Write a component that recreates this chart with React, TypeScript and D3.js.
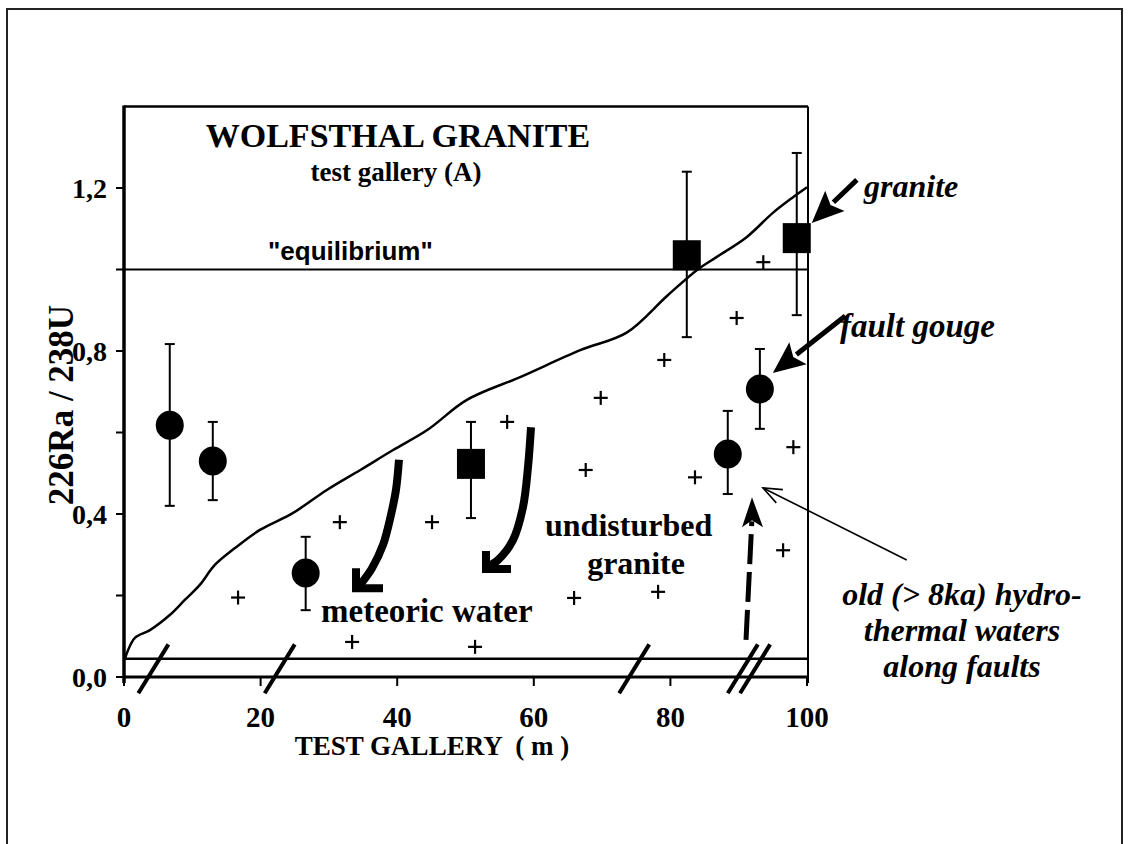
import React from 'react';
import * as d3 from 'd3';

// ---- data ----
const xTicks = [0, 20, 40, 60, 80, 100];
const yTicks = [0, 0.2, 0.4, 0.6, 0.8, 1.0, 1.2];
const yLabelTicks = [0, 0.4, 0.8, 1.2];

// fault gouge / meteoric samples (circles)
const circleX = [6.7, 13.0, 26.6, 88.4, 93.1];
const circleY = [0.618, 0.53, 0.255, 0.547, 0.707];
const circleHi = [0.817, 0.626, 0.344, 0.653, 0.805];
const circleLo = [0.42, 0.434, 0.164, 0.449, 0.609];

// granite samples (squares)
const squareX = [50.8, 82.4, 98.5];
const squareY = [0.523, 1.035, 1.077];
const squareHi = [0.626, 1.24, 1.286];
const squareLo = [0.39, 0.834, 0.888];

// undisturbed granite (+)
const plusX = [16.7, 31.6, 33.4, 45.1, 51.4, 56.1, 65.9, 67.6, 69.8, 78.2, 79.1, 83.6, 89.7, 93.6, 96.5, 98.0];
const plusY = [0.195, 0.38, 0.086, 0.38, 0.074, 0.626, 0.194, 0.508, 0.685, 0.209, 0.778, 0.49, 0.881, 1.018, 0.311, 0.564];

// envelope curve
const curveX = [0.1, 0.6, 1.6, 3.8, 6.7, 8.9, 11.1, 13.3, 16.3, 19.9, 24.7, 29.7, 34.6, 39.4, 44.4, 50.2, 58.0, 66.8, 73.6, 79.5, 83.9, 86.8, 91.2, 95.0, 98.0, 100];
const curveY = [0.042, 0.066, 0.096, 0.115, 0.152, 0.189, 0.226, 0.275, 0.317, 0.361, 0.402, 0.459, 0.508, 0.557, 0.606, 0.68, 0.736, 0.802, 0.845, 0.935, 0.999, 1.031, 1.08, 1.139, 1.178, 1.202];

const equilibrium = 1.0;
const floorLevel = 0.045;
const breakX = [4.3, 22.8, 74.7, 90.6, 92.4];

// annotation arrows (data units)
const meteoric1X = [40.26, 39.82, 39.09, 37.92, 36.31, 34.55];
const meteoric1Y = [0.533, 0.459, 0.398, 0.324, 0.267, 0.226];
const meteoric1Head = [[33.97, 0.267], [33.97, 0.218], [37.92, 0.218]];
const meteoric2X = [59.59, 59.15, 58.42, 56.95, 54.76, 53.15];
const meteoric2Y = [0.613, 0.515, 0.417, 0.336, 0.287, 0.27];
const meteoric2Head = [[53.0, 0.309], [53.0, 0.265], [56.66, 0.265]];
const dashedArrow = [[91.07, 0.091], [91.95, 0.441]];
const oldArrow = [[114.6, 0.287], [93.56, 0.464]];
const gougeArrow = [[105.6, 0.886], [95.0, 0.746]];
const graniteArrow = [[107.3, 1.22], [100.7, 1.114]];

const W = 1129;
const H = 844;
const serif = "'Liberation Serif', 'Times New Roman', serif";
const sans = "'Liberation Sans', Arial, sans-serif";

export default function App() {
  const x = d3.scaleLinear().domain([0, 100]).range([124, 807]);
  const y = d3.scaleLinear().domain([0, 1.4]).range([677, 106.5]);
  const left = x(0), right = 808, top = y(1.4), bottom = y(0);

  const curveLine = d3.line<number>().x((_, i) => x(curveX[i])).y((_, i) => y(curveY[i])).curve(d3.curveCatmullRom);
  const arrowLine = d3.line<[number, number]>().x(d => d[0]).y(d => d[1]).curve(d3.curveCatmullRom);

  const headArrow = (pts: number[][], L: number, hw: number, sw: number, key: string) => {
    const [x1, y1] = [x(pts[0][0]), y(pts[0][1])];
    const [x2, y2] = [x(pts[1][0]), y(pts[1][1])];
    const dx = x2 - x1, dy = y2 - y1;
    const len = Math.hypot(dx, dy);
    const ux = dx / len, uy = dy / len;
    const bx = x2 - ux * L, by = y2 - uy * L;
    const nx = -uy, ny = ux;
    return (
      <g key={key}>
        <line x1={x1} y1={y1} x2={bx + ux * 2} y2={by + uy * 2} stroke="#000" strokeWidth={sw} />
        <polygon points={`${x2},${y2} ${bx + nx * hw},${by + ny * hw} ${bx + ux * 6},${by + uy * 6} ${bx - nx * hw},${by - ny * hw}`} fill="#000" />
      </g>
    );
  };

  const meteoric = (xs: number[], ys: number[], head: number[][], key: string) => (
    <g key={key}>
      <path d={arrowLine(xs.map((v, i) => [x(v), y(ys[i])]) as [number, number][]) || ''} fill="none" stroke="#000" strokeWidth={8} />
      <polyline points={head.map(p => `${x(p[0])},${y(p[1])}`).join(' ')} fill="none" stroke="#000" strokeWidth={8} strokeLinejoin="miter" />
    </g>
  );

  // thin open arrow
  const ox1 = x(oldArrow[0][0]), oy1 = y(oldArrow[0][1]);
  const ox2 = x(oldArrow[1][0]), oy2 = y(oldArrow[1][1]);
  const oang = Math.atan2(oy1 - oy2, ox1 - ox2);
  const oL = 20, oA = 0.38;

  // dashed arrow
  const dx1 = x(dashedArrow[0][0]), dy1 = y(dashedArrow[0][1]);
  const dx2 = x(dashedArrow[1][0]), dy2 = y(dashedArrow[1][1]);

  return (
    <svg width={W} height={H} style={{ position: 'absolute', left: 0, top: 0, background: '#fff' }}>
      <rect x={0} y={0} width={W} height={H} fill="#fff" />
      {/* outer border */}
      <path d={`M7,${H} L7,9 L1122,9 L1122,${H}`} fill="none" stroke="#222" strokeWidth={2} />

      {/* frame */}
      <line x1={left} y1={top} x2={right} y2={top} stroke="#000" strokeWidth={2.5} />
      <line x1={right} y1={top} x2={right} y2={bottom + 6} stroke="#000" strokeWidth={2} />
      <line x1={left} y1={top - 1} x2={left} y2={bottom + 6} stroke="#000" strokeWidth={3.5} />
      <line x1={left} y1={bottom} x2={right} y2={bottom} stroke="#000" strokeWidth={3} />

      {/* y ticks */}
      {yTicks.map(t => (
        <line key={'yt' + t} x1={left - 8} x2={left} y1={y(t)} y2={y(t)} stroke="#000" strokeWidth={2} />
      ))}
      {yLabelTicks.map(t => (
        <text key={'yl' + t} x={107} y={y(t) + 10} textAnchor="end" fontFamily={serif} fontWeight="bold" fontSize={28}>
          {d3.format('.1f')(t).replace('.', ',')}
        </text>
      ))}
      {/* x ticks */}
      {xTicks.map(t => (
        <line key={'xt' + t} x1={x(t)} x2={x(t)} y1={bottom} y2={bottom + 9} stroke="#000" strokeWidth={2} />
      ))}
      {xTicks.map(t => (
        <text key={'xl' + t} x={x(t)} y={727} textAnchor="middle" fontFamily={serif} fontWeight="bold" fontSize={29}>
          {t}
        </text>
      ))}
      <text x={432} y={755} textAnchor="middle" fontFamily={serif} fontWeight="bold" fontSize={27} xmlSpace="preserve">
        TEST GALLERY  ( m )
      </text>
      <text transform={`translate(73,${405}) rotate(-90)`} textAnchor="middle" fontFamily={serif} fontWeight="bold" fontSize={35}>
        226Ra / 238U
      </text>

      {/* reference lines */}
      <line x1={left - 2} x2={right} y1={y(equilibrium)} y2={y(equilibrium)} stroke="#000" strokeWidth={2} />
      <line x1={left} x2={right} y1={y(floorLevel)} y2={y(floorLevel)} stroke="#000" strokeWidth={2.5} />

      {/* axis breaks */}
      {breakX.map(b => (
        <line key={'br' + b} x1={x(b - 2.2)} y1={y(-0.04)} x2={x(b + 2.2)} y2={y(0.08)} stroke="#000" strokeWidth={4} />
      ))}

      {/* curve */}
      <path d={curveLine(curveX) || ''} fill="none" stroke="#000" strokeWidth={2.5} />

      {/* pluses */}
      {plusX.map((v, i) => (
        <g key={'p' + i} stroke="#000" strokeWidth={2.2}>
          <line x1={x(v) - 7} x2={x(v) + 7} y1={y(plusY[i])} y2={y(plusY[i])} />
          <line x1={x(v)} x2={x(v)} y1={y(plusY[i]) - 7} y2={y(plusY[i]) + 7} />
        </g>
      ))}

      {/* error bars + circles */}
      {circleX.map((v, i) => (
        <g key={'c' + i}>
          <line x1={x(v)} x2={x(v)} y1={y(circleHi[i])} y2={y(circleLo[i])} stroke="#000" strokeWidth={2} />
          <line x1={x(v) - 5} x2={x(v) + 5} y1={y(circleHi[i])} y2={y(circleHi[i])} stroke="#000" strokeWidth={2} />
          <line x1={x(v) - 5} x2={x(v) + 5} y1={y(circleLo[i])} y2={y(circleLo[i])} stroke="#000" strokeWidth={2} />
          <ellipse cx={x(v)} cy={y(circleY[i])} rx={14} ry={14.5} fill="#000" />
        </g>
      ))}
      {squareX.map((v, i) => (
        <g key={'s' + i}>
          <line x1={x(v)} x2={x(v)} y1={y(squareHi[i])} y2={y(squareLo[i])} stroke="#000" strokeWidth={2} />
          <line x1={x(v) - 5} x2={x(v) + 5} y1={y(squareHi[i])} y2={y(squareHi[i])} stroke="#000" strokeWidth={2} />
          <line x1={x(v) - 5} x2={x(v) + 5} y1={y(squareLo[i])} y2={y(squareLo[i])} stroke="#000" strokeWidth={2} />
          <rect x={x(v) - 14} y={y(squareY[i]) - 15} width={28} height={30} fill="#000" />
        </g>
      ))}

      {/* meteoric water arrows */}
      {meteoric(meteoric1X, meteoric1Y, meteoric1Head, 'm1')}
      {meteoric(meteoric2X, meteoric2Y, meteoric2Head, 'm2')}

      {/* dashed hydrothermal arrow */}
      <line x1={dx1} y1={dy1} x2={dx2 - 0.2} y2={dy2 + 24} stroke="#000" strokeWidth={5} strokeDasharray="30 8" />
      <polygon points={`${dx2},${dy2} ${dx2 + 11},${dy2 + 30} ${dx2},${dy2 + 23} ${dx2 - 10},${dy2 + 30}`} fill="#000" />

      {/* thin arrow */}
      <line x1={ox1} y1={oy1} x2={ox2} y2={oy2} stroke="#000" strokeWidth={1.6} />
      <polyline
        points={`${ox2 + oL * Math.cos(oang + oA)},${oy2 + oL * Math.sin(oang + oA)} ${ox2},${oy2} ${ox2 + oL * Math.cos(oang - oA)},${oy2 + oL * Math.sin(oang - oA)}`}
        fill="none" stroke="#000" strokeWidth={1.6} />

      {headArrow(gougeArrow, 32, 14, 5, 'ga')}
      {headArrow(graniteArrow, 32, 14, 5, 'gr')}

      {/* texts */}
      <text x={398} y={147} textAnchor="middle" fontFamily={serif} fontWeight="bold" fontSize={34}>WOLFSTHAL GRANITE</text>
      <text x={396} y={181} textAnchor="middle" fontFamily={serif} fontWeight="bold" fontSize={27}>test gallery (A)</text>
      <text x={268} y={260} fontFamily={sans} fontWeight="bold" fontSize={26}>"equilibrium"</text>
      <text x={545} y={536} fontFamily={serif} fontWeight="bold" fontSize={32}>undisturbed</text>
      <text x={636} y={574} textAnchor="middle" fontFamily={serif} fontWeight="bold" fontSize={32}>granite</text>
      <text x={321} y={622} fontFamily={serif} fontWeight="bold" fontSize={33}>meteoric water</text>
      <text x={864} y={197} fontFamily={serif} fontWeight="bold" fontStyle="italic" fontSize={32}>granite</text>
      <text x={840} y={337} fontFamily={serif} fontWeight="bold" fontStyle="italic" fontSize={33}>fault gouge</text>
      <text x={962} y={605} textAnchor="middle" fontFamily={serif} fontWeight="bold" fontStyle="italic" fontSize={32}>old (&gt; 8ka) hydro-</text>
      <text x={962} y={641} textAnchor="middle" fontFamily={serif} fontWeight="bold" fontStyle="italic" fontSize={32}>thermal waters</text>
      <text x={962} y={677} textAnchor="middle" fontFamily={serif} fontWeight="bold" fontStyle="italic" fontSize={32}>along faults</text>
    </svg>
  );
}
